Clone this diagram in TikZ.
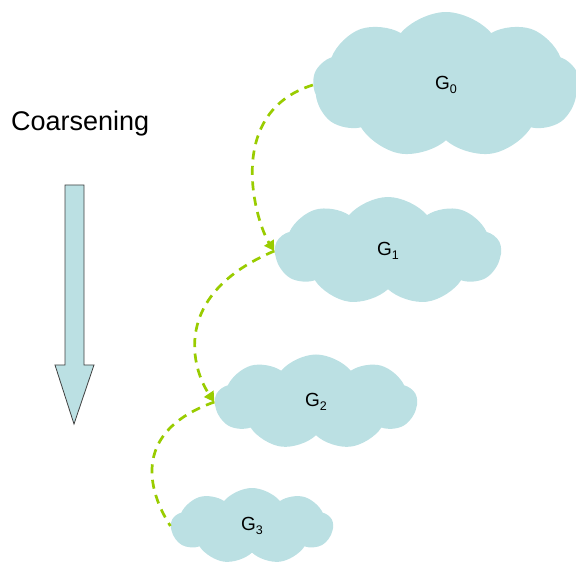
\documentclass[tikz,border=0pt]{standalone}
\usepackage{fontspec}
\setmainfont{Liberation Sans}
\usetikzlibrary{shapes.symbols,arrows.meta}
\definecolor{cloudblue}{RGB}{187,224,227}
\definecolor{linkgreen}{RGB}{153,204,0}
\definecolor{edgegray}{RGB}{64,64,64}
\newcommand{\graphlabel}[1]{{\fontsize{19}{21}\selectfont G\raisebox{-0.35ex}{\fontsize{12.5}{13}\selectfont #1}}}
\begin{document}
\begin{tikzpicture}[x=1pt,y=1pt,
  graphcloud/.style={cloud, cloud puffs=9, cloud puff arc=100, fill=cloudblue,
    draw=none, inner sep=0pt, text=black},
  link/.style={draw=linkgreen, line width=2.7pt, dash pattern=on 9pt off 6.5pt},
  linkhead/.style={-{Triangle[length=10pt,width=11pt,fill=linkgreen]}}
]
\useasboundingbox (0,0) rectangle (576,563);
\clip (0,0) rectangle (576,563);

% graph hierarchy, finest at the top
\node[graphcloud, minimum width=266pt, minimum height=146pt] (g0) at (446,478) {\graphlabel{0}};
\node[graphcloud, minimum width=226pt, minimum height=108pt] (g1) at (388,312) {\graphlabel{1}};
\node[graphcloud, minimum width=202pt, minimum height=95pt] (g2) at (316,161) {\graphlabel{2}};
\node[graphcloud, minimum width=162pt, minimum height=76pt] (g3) at (252,37) {\graphlabel{3}};

% links between successive levels
\draw[link, linkhead] (g0.west) .. controls (223,450) and (256,340) .. (g1.west);
\draw[link, linkhead] (g1.west) .. controls (170,268) and (192,194) .. (g2.west);
\draw[link] (g2.west) .. controls (119,127) and (158,56) .. (g3.west);

% direction of coarsening
\node[anchor=west, inner sep=0pt, font=\fontsize{27}{32}\selectfont] (title) at (11,439) {Coarsening};
\draw[draw=edgegray, line width=0.8pt, fill=cloudblue]
  (65,378) -- (84,378) -- (84,198) -- (94,198) -- (74,139) -- (55,198) -- (65,198) -- cycle;
\end{tikzpicture}
\end{document}
